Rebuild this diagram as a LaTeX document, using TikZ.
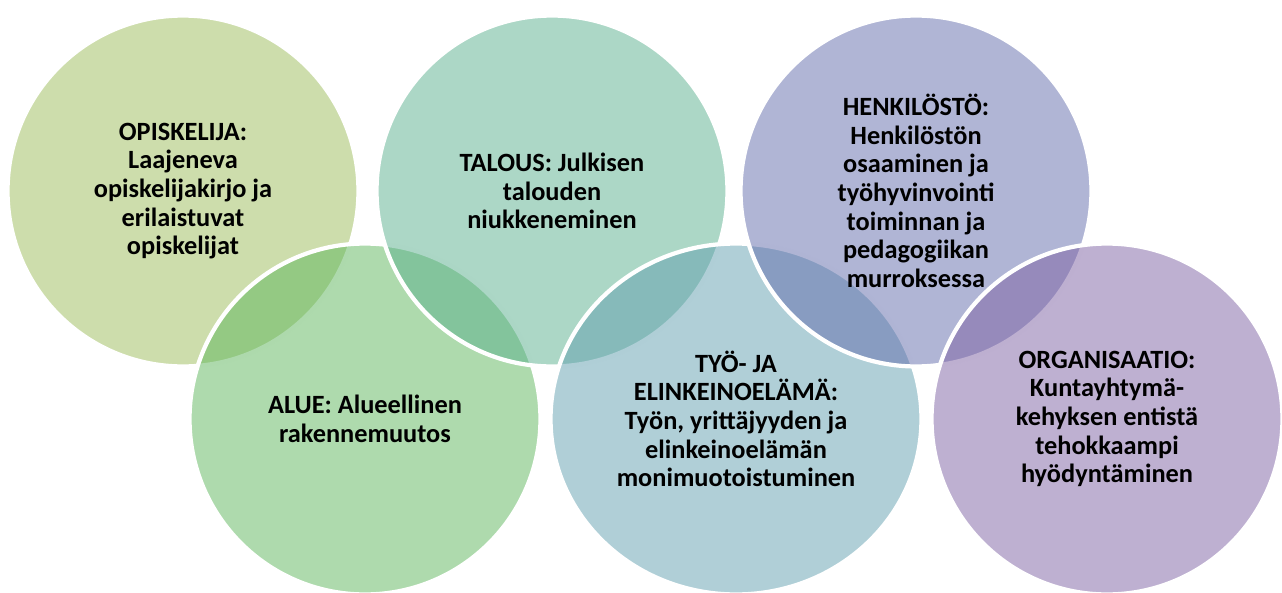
\documentclass[tikz,border=0pt]{standalone}
\usepackage{fontspec}
\setmainfont{Carlito}
\usetikzlibrary{shapes.geometric}
\definecolor{opiskcol}{HTML}{9BBB59}
\definecolor{aluecol}{HTML}{5DB55B}
\definecolor{talouscol}{HTML}{59AF8D}
\definecolor{tyocol}{HTML}{619FAF}
\definecolor{henkcol}{HTML}{616BAB}
\definecolor{orgcol}{HTML}{7D61A3}
\begin{document}
\begin{tikzpicture}[x=0.02cm, y=-0.02cm,
        bubble/.style={circle, draw=white, line width=2.4pt, minimum size=7.02cm,
            fill opacity=0.5, draw opacity=1, text opacity=1, inner sep=0pt,
            align=center, font=\bfseries\fontsize{15}{16.3}\selectfont}]
                \useasboundingbox (0,0) rectangle (1282,592);

                % zigzag order: top, bottom, top, ...
                \node[bubble, fill=opiskcol] (opisk) at (183,191)
                    {OPISKELIJA:\\Laajeneva\\opiskelijakirjo ja\\erilaistuvat\\opiskelijat};
                \node[bubble, fill=aluecol] (alue) at (365,419)
                    {ALUE: Alueellinen\\rakennemuutos};
                \node[bubble, fill=talouscol] (talous) at (552,191)
                    {TALOUS: Julkisen\\talouden\\niukkeneminen};
                \node[bubble, ellipse, minimum width=7.42cm, minimum height=7.02cm, fill=tyocol] (tyo) at (736,419)
                    {TYÖ- JA\\ELINKEINOELÄMÄ:\\Työn, yrittäjyyden ja\\elinkeinoelämän\\monimuotoistuminen};
                \node[bubble, fill=henkcol] (henk) at (916,191)
                    {HENKILÖSTÖ:\\Henkilöstön\\osaaminen ja\\työhyvinvointi\\toiminnan ja\\pedagogiikan\\murroksessa};
                \node[bubble, fill=orgcol] (org) at (1107,419)
                    {ORGANISAATIO:\\Kuntayhtymä-\\kehyksen entistä\\tehokkaampi\\hyödyntäminen};
            \end{tikzpicture}
\end{document}
